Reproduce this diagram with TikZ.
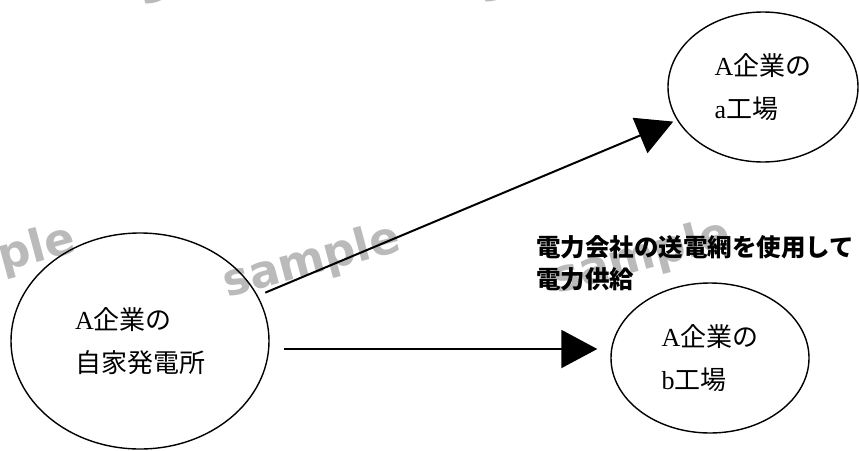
\documentclass[tikz,border=0pt]{standalone}
\usepackage{fontspec}
\setmainfont{Liberation Serif}
\newfontfamily\jp{Noto Sans CJK JP}
\newfontfamily\wm{DejaVu Sans}
\usetikzlibrary{arrows.meta,shapes.geometric}
\newcommand{\J}[1]{{\jp #1}}
\begin{document}
\begin{tikzpicture}[x=1pt,y=-1pt,
  place/.style={draw, line width=1.4pt, ellipse, inner sep=0pt, align=left,
    font=\fontsize{26}{43}\selectfont},
  flow/.style={line width=2pt, -{Triangle[length=36pt,width=38pt]}},
  wmark/.style={text=black!27, font=\wm\bfseries\fontsize{45}{45}\selectfont, rotate=15},
  note/.style={align=left, inner sep=0pt, font=\jp\bfseries\fontsize{24.5}{32}\selectfont}]
\useasboundingbox (0,0) rectangle (859,450);
% watermarks
\node[wmark] (w1) at (-13,263) {sample};
\node[wmark] (w2) at (312,262) {sample};
\node[wmark] (w3) at (642,258) {sample};
\node[wmark] (w4) at (228,-30) {sample};
\node[wmark] (w5) at (568,-32) {sample};
% places
\node[place, minimum width=258pt, minimum height=216pt] (L) at (140,341)
  {A\J{企業の}\\\J{自家発電所}};
\node[place, minimum width=190pt, minimum height=150pt] (A) at (763,87)
  {A\J{企業の}\\a\J{工場}};
\node[place, minimum width=198pt, minimum height=150pt] (B) at (710,358)
  {A\J{企業の}\\b\J{工場}};
% label
\node[note, anchor=west] (lab) at (536,263) {電力会社の送電網を使用して\\電力供給};
% connectors
\draw[flow, shorten <=8pt, shorten >=4pt] (L.21) -- (A.201);
\draw[flow, shorten <=14pt, shorten >=13pt] ([yshift=-8pt]L.east) -- ([yshift=9pt]B.west);
\end{tikzpicture}
\end{document}
